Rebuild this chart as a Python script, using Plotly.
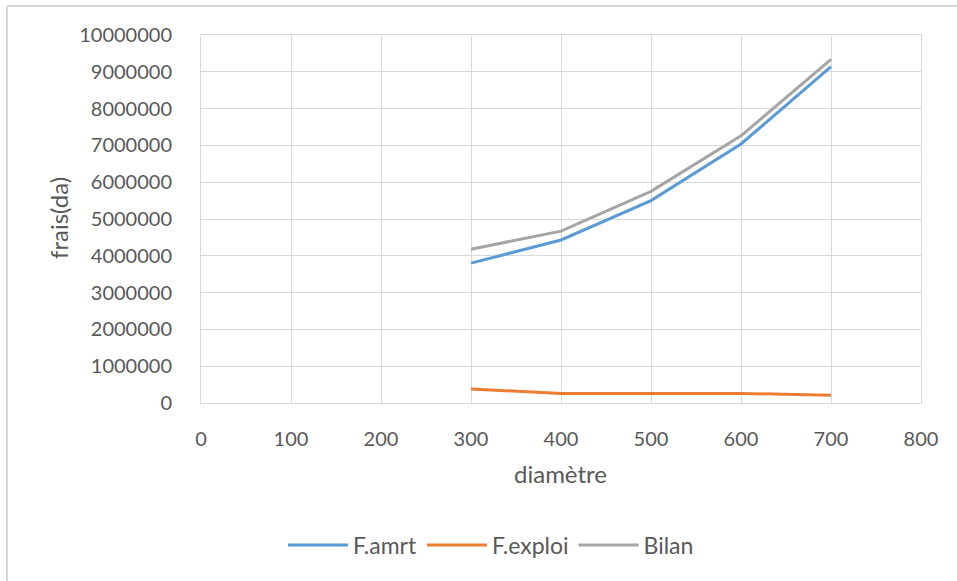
import plotly.graph_objects as go

diametre = [300, 400, 500, 600, 700]
f_amrt = [3800000, 4430000, 5500000, 7040000, 9140000]
f_exploi = [380000, 260000, 260000, 260000, 210000]
bilan = [4180000, 4670000, 5750000, 7260000, 9340000]

x_ticks = [0, 100, 200, 300, 400, 500, 600, 700, 800]
y_ticks = [0, 1000000, 2000000, 3000000, 4000000, 5000000, 6000000, 7000000, 8000000, 9000000, 10000000]

FONT = "Lato"
TXT = "#595959"
GRID = "#d9d9d9"

fig = go.Figure()
fig.add_trace(go.Scatter(x=diametre, y=f_amrt, mode="lines", name="F.amrt",
                         line=dict(color="#5B9BD5", width=3)))
fig.add_trace(go.Scatter(x=diametre, y=f_exploi, mode="lines", name="F.exploi",
                         line=dict(color="#ED7D31", width=3)))
fig.add_trace(go.Scatter(x=diametre, y=bilan, mode="lines", name="Bilan",
                         line=dict(color="#A5A5A5", width=3)))

W, H = 957, 581
L, R, T, B = 201, 36, 35, 178
pw, ph = W - L - R, H - T - B

def px(xp):
    return (xp - L) / pw

def py(yp):
    return (H - B - yp) / ph

fig.update_layout(
    width=W, height=H,
    margin=dict(l=L, r=R, t=T, b=B),
    paper_bgcolor="white", plot_bgcolor="white",
    font=dict(family=FONT, color=TXT, size=20),
    showlegend=True,
    legend=dict(orientation="h", x=px(491), y=py(545), xanchor="center", yanchor="middle",
                font=dict(size=23, color=TXT), bgcolor="rgba(0,0,0,0)",
                itemwidth=60, tracegroupgap=0),
    xaxis=dict(range=[0, 800], tickvals=x_ticks, ticktext=[str(v) for v in x_ticks],
               showgrid=True, gridcolor=GRID, gridwidth=1, zeroline=False,
               showline=True, linecolor=GRID, linewidth=1, mirror=True,
               ticks="", ticklabelstandoff=18, tickfont=dict(size=20, color=TXT)),
    yaxis=dict(range=[0, 10000000], tickvals=y_ticks, ticktext=[str(v) for v in y_ticks],
               showgrid=True, gridcolor=GRID, gridwidth=1, zeroline=False,
               showline=True, linecolor=GRID, linewidth=1, mirror=True,
               ticks="", ticklabelstandoff=24, tickfont=dict(size=20, color=TXT)),
    annotations=[
        dict(text="diamètre", x=px(560), y=py(473), xref="paper", yref="paper",
             showarrow=False, xanchor="center", yanchor="middle",
             font=dict(size=24, color=TXT)),
        dict(text="frais(da)", x=px(58), y=py(218), xref="paper", yref="paper",
             showarrow=False, xanchor="center", yanchor="middle", textangle=-90,
             font=dict(size=24, color=TXT)),
    ],
    shapes=[
        dict(type="line", xref="paper", yref="paper", x0=px(7), x1=px(957), y0=py(6), y1=py(6),
             line=dict(color=GRID, width=2)),
        dict(type="line", xref="paper", yref="paper", x0=px(7), x1=px(7), y0=py(6), y1=py(581),
             line=dict(color=GRID, width=2)),
    ],
)

fig.write_html("out.html", config={"displayModeBar": False},
               post_script="document.body.style.margin='0px';document.body.style.overflow='hidden';")
